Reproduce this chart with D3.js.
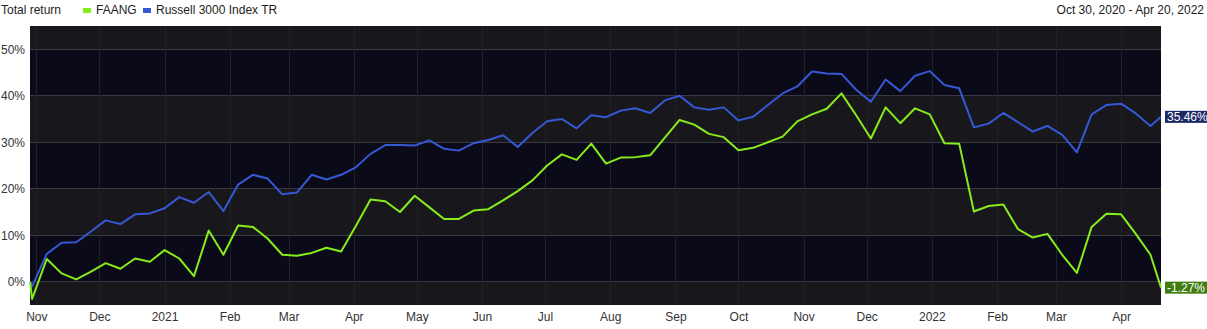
<!DOCTYPE html>
<html>
<head>
<meta charset="utf-8">
<script src="https://cdn.jsdelivr.net/npm/d3@7"></script>
<style>
  body { margin: 0; background: #fff; font-family: "Liberation Sans", Arial, sans-serif; }
  svg text { font-family: "Liberation Sans", Arial, sans-serif; }
</style>
</head>
<body>
<svg id="chart" width="1207" height="329"></svg>
<script>
// weekly closes, first point is the base (0%)
var dates = ["2020-10-29", "2020-10-30", "2020-11-06", "2020-11-13", "2020-11-20", "2020-11-27",
  "2020-12-04", "2020-12-11", "2020-12-18", "2020-12-25", "2021-01-01", "2021-01-08", "2021-01-15",
  "2021-01-22", "2021-01-29", "2021-02-05", "2021-02-12", "2021-02-19", "2021-02-26", "2021-03-05",
  "2021-03-12", "2021-03-19", "2021-03-26", "2021-04-02", "2021-04-09", "2021-04-16", "2021-04-23",
  "2021-04-30", "2021-05-07", "2021-05-14", "2021-05-21", "2021-05-28", "2021-06-04", "2021-06-11",
  "2021-06-18", "2021-06-25", "2021-07-02", "2021-07-09", "2021-07-16", "2021-07-23", "2021-07-30",
  "2021-08-06", "2021-08-13", "2021-08-20", "2021-08-27", "2021-09-03", "2021-09-10", "2021-09-17",
  "2021-09-24", "2021-10-01", "2021-10-08", "2021-10-15", "2021-10-22", "2021-10-29", "2021-11-05",
  "2021-11-12", "2021-11-19", "2021-11-26", "2021-12-03", "2021-12-10", "2021-12-17", "2021-12-24",
  "2021-12-31", "2022-01-07", "2022-01-14", "2022-01-21", "2022-01-28", "2022-02-04", "2022-02-11",
  "2022-02-18", "2022-02-25", "2022-03-04", "2022-03-11", "2022-03-18", "2022-03-25", "2022-04-01",
  "2022-04-08", "2022-04-15", "2022-04-20"];

var faang = [0, -3.7, 4.9, 1.8, 0.5, 2.2, 4.0, 2.8, 5.0, 4.3, 6.8, 5.0, 1.2, 11.0, 5.8, 12.1, 11.8,
  9.3, 5.8, 5.6, 6.2, 7.3, 6.5, 12.0, 17.7, 17.3, 15.0, 18.5, 16.0, 13.5, 13.5, 15.3, 15.6, 17.5,
  19.5, 21.8, 25.0, 27.4, 26.2, 29.7, 25.4, 26.7, 26.8, 27.2, 31.0, 34.8, 33.8, 31.8, 31.1, 28.3,
  28.8, 30.0, 31.2, 34.5, 36.0, 37.2, 40.5, 35.8, 30.8, 37.5, 34.1, 37.3, 36.0, 29.8, 29.7, 15.1,
  16.3, 16.6, 11.3, 9.5, 10.3, 5.8, 1.9, 11.8, 14.6, 14.5, 10.3, 5.8, -1.27];

var russell = [0, -1.0, 6.0, 8.4, 8.5, 10.8, 13.2, 12.4, 14.5, 14.7, 15.8, 18.2, 17.0, 19.3, 15.2,
  20.9, 23.0, 22.2, 18.8, 19.2, 23.0, 22.0, 23.0, 24.6, 27.5, 29.4, 29.4, 29.3, 30.4, 28.6, 28.2,
  29.8, 30.5, 31.5, 29.0, 32.0, 34.5, 35.0, 33.0, 35.8, 35.4, 36.8, 37.3, 36.3, 39.0, 40.0, 37.5,
  37.0, 37.5, 34.7, 35.5, 38.0, 40.5, 42.0, 45.2, 44.8, 44.7, 41.3, 38.7, 43.5, 41.0, 44.3, 45.3,
  42.3, 41.6, 33.2, 34.0, 36.3, 34.3, 32.3, 33.5, 31.6, 27.8, 36.0, 38.0, 38.3, 36.2, 33.5, 35.46];

var seriesNames = ["FAANG", "Russell 3000 Index TR"];
var seriesColors = ["#86ec1c", "#3558d4"];
var labelColors = ["#3f7d10", "#1a2866"];
var yTicks = [0, 10, 20, 30, 40, 50];
var yDomain = [-5, 55];
var titleText = "Total return";
var rangeText = "Oct 30, 2020 - Apr 20, 2022";

var svg = d3.select("#chart");
var margin = {left: 30, right: 46, top: 26, bottom: 24};
var width = 1207, height = 329;
var parse = d3.timeParse("%Y-%m-%d");
var times = dates.map(parse);

var x = d3.scaleTime()
  .domain([times[0], times[times.length - 1]])
  .range([margin.left, width - margin.right]);
var y = d3.scaleLinear().domain(yDomain).range([height - margin.bottom, margin.top]);

// alternating bands between the y ticks
var edges = [yDomain[0]].concat(yTicks, [yDomain[1]]);
var bands = [];
for (var i = 0; i < edges.length - 1; i ++) {
  bands.push({lo: edges[i], hi: edges[i + 1], light: i % 2 === 0});
}
svg.append("g").selectAll("rect").data(bands).join("rect")
  .attr("x", x.range()[0]).attr("width", x.range()[1] - x.range()[0])
  .attr("y", function(d) { return y(d.hi); })
  .attr("height", function(d) { return y(d.lo) - y(d.hi); })
  .attr("fill", function(d) { return d.light ? "#18181c" : "#0a0a18"; });

// month grid + x axis
var monthTicks = d3.timeMonth.range(d3.timeMonth.ceil(times[0]), times[times.length - 1]);
svg.append("g").selectAll("line").data(monthTicks).join("line")
  .attr("x1", function(d) { return Math.round(x(d)) + 0.5; })
  .attr("x2", function(d) { return Math.round(x(d)) + 0.5; })
  .attr("y1", y.range()[1]).attr("y2", y.range()[0])
  .attr("stroke", "#202027").attr("stroke-width", 1);

var fmtMonth = function(d) { return d.getMonth() === 0 ? d3.timeFormat("%Y")(d) : d3.timeFormat("%b")(d); };
var xAxis = svg.append("g")
  .attr("transform", "translate(0," + y.range()[0] + ")")
  .call(d3.axisBottom(x).tickValues(monthTicks).tickFormat(fmtMonth).tickSize(0).tickPadding(7));
xAxis.select(".domain").remove();
xAxis.selectAll("text").attr("font-size", "12px").attr("fill", "#333");

var yAxis = svg.append("g")
  .attr("transform", "translate(" + (margin.left - 5) + ",0)")
  .call(d3.axisLeft(y).tickValues(yTicks).tickFormat(function(d) { return d + "%"; }).tickSize(0).tickPadding(0));
yAxis.select(".domain").remove();
yAxis.selectAll("text").attr("font-size", "12px").attr("fill", "#333");

// lines
var series = [faang, russell];
var line = d3.line()
  .x(function(d, i) { return x(times[i]); })
  .y(function(d) { return y(d); });
series.slice().reverse().forEach(function(values, j) {
  var k = series.length - 1 - j;
  svg.append("path").datum(values)
    .attr("d", line)
    .attr("fill", "none")
    .attr("stroke", seriesColors[k])
    .attr("stroke-width", 2)
    .attr("stroke-linejoin", "round");
});

// end value labels
series.forEach(function(values, k) {
  var last = values[values.length - 1];
  var g = svg.append("g").attr("transform", "translate(" + (x.range()[1] + 4) + "," + y(last) + ")");
  g.append("rect").attr("x", 0).attr("y", -6).attr("width", 46).attr("height", 12).attr("fill", labelColors[k]);
  g.append("text").attr("x", 2).attr("y", 0).attr("dy", "0.36em")
    .attr("font-size", "12px").attr("fill", "#fff")
    .text(last.toFixed(2) + "%");
});

// header
svg.append("text").attr("x", 1).attr("y", 14).attr("font-size", "12px").attr("fill", "#222").text(titleText);
var legendX = [83, 143];
seriesNames.forEach(function(name, k) {
  svg.append("rect").attr("x", legendX[k]).attr("y", 8).attr("width", 8).attr("height", 5).attr("fill", seriesColors[k]);
  svg.append("text").attr("x", legendX[k] + 13).attr("y", 14).attr("font-size", "12px").attr("fill", "#222").text(name);
});
svg.append("text").attr("x", 1204).attr("y", 14).attr("text-anchor", "end")
  .attr("font-size", "12px").attr("fill", "#222").text(rangeText);
</script>
</body>
</html>
